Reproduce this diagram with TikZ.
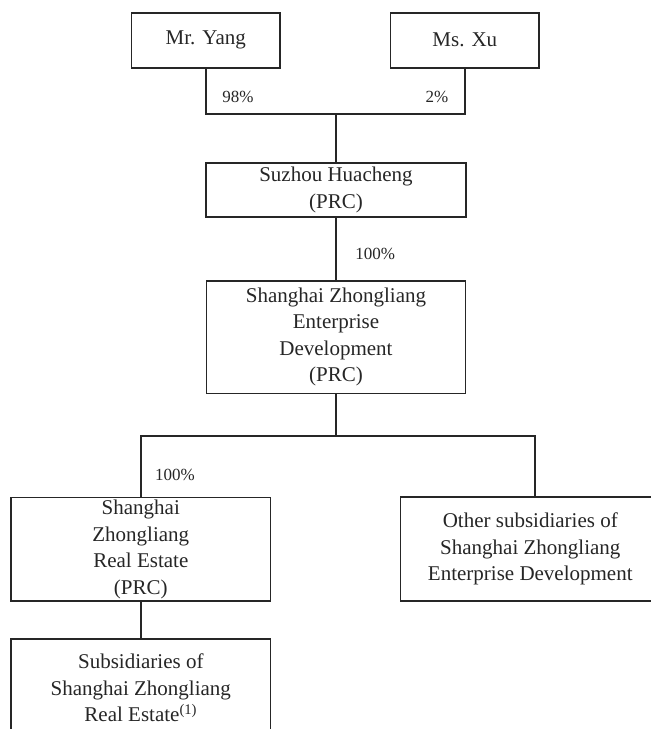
\documentclass[tikz,border=0pt]{standalone}
\usepackage{fontspec}
\setmainfont{Liberation Serif}
\begin{document}
\begin{tikzpicture}[x=1pt,y=-1pt,
  box/.style={draw=black!85, line width=1.6pt, inner sep=0pt, align=center, text=black!85, font=\fontsize{21}{26.5}\selectfont},
  conn/.style={draw=black!85, line width=1.8pt},
  pct/.style={inner sep=0pt, text=black!85, font=\fontsize{17}{20}\selectfont}]
\useasboundingbox (0,0) rectangle (651,729);
\clip (0,0) rectangle (651,729);
\node[box, minimum width=148.3pt, minimum height=55pt] (yang) at (205.8,40.2) {Mr. Yang};
\node[box, minimum width=148.3pt, minimum height=55pt] (xu) at (464.8,40.2) {Ms. Xu};
\node[box, minimum width=260pt, minimum height=54pt] (suz) at (336,189.7) {Suzhou Huacheng\\(PRC)};
\node[box, minimum width=259pt, minimum height=112.6pt] (szed) at (336,337) {Shanghai Zhongliang\\Enterprise\\Development\\(PRC)};
\node[box, minimum width=259.7pt, minimum height=103.7pt] (re) at (140.8,549.2) {Shanghai\\Zhongliang\\Real Estate\\(PRC)};
\node[box, minimum width=259.3pt, minimum height=104pt] (oth) at (530.3,549) {Other subsidiaries of\\Shanghai Zhongliang\\Enterprise Development};
\node[box, minimum width=259.7pt, minimum height=98pt] (sub) at (140.8,688) {Subsidiaries of\\Shanghai Zhongliang\\Real Estate\textsuperscript{(1)}};
\coordinate (j1) at (336,113.7);
\coordinate (j2) at (336,435.7);
\draw[conn] (yang.south) |- (j1) -| (xu.south);
\draw[conn] (j1) -- (suz.north);
\draw[conn] (suz.south) -- (szed.north);
\draw[conn] (szed.south) -- (j2);
\draw[conn] (re.north) |- (j2) -| ([xshift=4.4pt]oth.north);
\draw[conn] (re.south) -- (sub.north);
\node[pct] (p98) at (238,97) {98\%};
\node[pct] (p2) at (437,97) {2\%};
\node[pct] (p100a) at (375.3,254) {100\%};
\node[pct] (p100b) at (175,475) {100\%};
\end{tikzpicture}
\end{document}
